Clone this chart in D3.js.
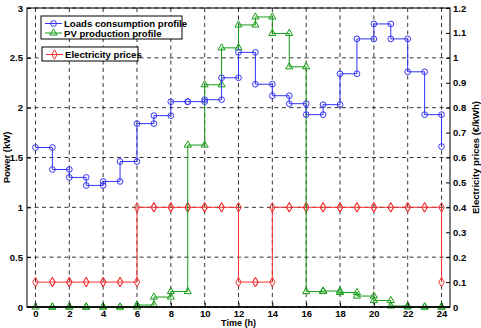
<!DOCTYPE html>
<html>
<head>
<meta charset="utf-8">
<script src="https://cdn.jsdelivr.net/npm/d3@7"></script>
<style>
  body { margin: 0; background: #fff; }
  text { font-family: "Liberation Sans", Arial, sans-serif; font-weight: bold; }
</style>
</head>
<body>
<script>
// hourly values, index = hour 0..24 (last one closes the stairs)
var hours = d3.range(0, 25);
var loads = [1.6, 1.38, 1.3, 1.22, 1.26, 1.46, 1.84, 1.92, 2.06, 2.06, 2.08, 2.3, 2.555,
             2.235, 2.12, 2.04, 1.93, 2.03, 2.34, 2.69, 2.84, 2.69, 2.36, 1.93, 1.61];
var pv = [0, 0, 0, 0, 0, 0, 0.02, 0.1, 0.155, 1.625, 2.23, 2.6, 2.83,
          2.91, 2.745, 2.41, 0.155, 0.16, 0.145, 0.11, 0.065, 0.01, 0, 0, 0];
var prices = [0.1, 0.1, 0.1, 0.1, 0.1, 0.1, 0.4, 0.4, 0.4, 0.4, 0.4, 0.4, 0.1,
              0.1, 0.4, 0.4, 0.4, 0.4, 0.4, 0.4, 0.4, 0.4, 0.4, 0.4, 0.1];
var xTicks = d3.range(0, 25, 2);
var yTicks = [0, 0.5, 1, 1.5, 2, 2.5, 3];
var y2Ticks = d3.range(0, 13).map(function(d) { return d / 10; });

var w = 481, h = 328;
var margin = {top: 8, bottom: 21, left: 27, right: 31};

var svg = d3.select("body").append("svg")
    .attr("width", w)
    .attr("height", h)

var x = d3.scaleLinear().domain([-0.5, 24.5]).range([margin.left, w - margin.right]);
var y = d3.scaleLinear().domain([0, 3]).range([h - margin.bottom, margin.top]);
var y2 = d3.scaleLinear().domain([0, 1.2]).range([h - margin.bottom, margin.top]);

var x0 = margin.left, x1 = w - margin.right, yb = h - margin.bottom, yt = margin.top;

// grid
svg.append("g").selectAll("line").data(xTicks).enter().append("line")
  .attr("x1", function(d) { return x(d); }).attr("x2", function(d) { return x(d); })
  .attr("y1", yt).attr("y2", yb)
  .attr("stroke", "#333").attr("stroke-dasharray", "4,3.5");
svg.append("g").selectAll("line").data(yTicks).enter().append("line")
  .attr("y1", function(d) { return y(d); }).attr("y2", function(d) { return y(d); })
  .attr("x1", x0).attr("x2", x1)
  .attr("stroke", "#333").attr("stroke-dasharray", "4,3.5");

// stairs vertices: (i, v_i) (i+1, v_i) ... (24, v_24)
function stairs(vals, sc) {
  var pts = [];
  for (var i = 0; i < vals.length - 1; i++) {
    pts.push([hours[i], vals[i]]);
    pts.push([hours[i + 1], vals[i]]);
  }
  pts.push([hours[vals.length - 1], vals[vals.length - 1]]);
  return pts.map(function(p) { return [x(p[0]), sc(p[1])]; });
}

function drawSeries(vals, sc, color, shape) {
  var pts = stairs(vals, sc);
  svg.append("path").attr("d", d3.line()(pts))
    .attr("fill", "none").attr("stroke", color).attr("stroke-width", 1);
  svg.append("g").selectAll("path").data(pts).enter().append("path")
    .attr("d", d3.symbol().type(shape).size(shape === d3.symbolTriangle ? 22 : 26))
    .attr("transform", function(p) { return "translate(" + p[0] + "," + p[1] + ")"; })
    .attr("fill", "none").attr("stroke", color).attr("stroke-width", 1);
}

var blue = "#3434f5", green = "#169c16", red = "#f53434";
drawSeries(prices, y2, red, d3.symbolDiamond);
drawSeries(pv, y, green, d3.symbolTriangle);
drawSeries(loads, y, blue, d3.symbolCircle);

// frame
svg.append("rect").attr("x", x0).attr("y", yt).attr("width", x1 - x0).attr("height", yb - yt)
  .attr("fill", "none").attr("stroke", "#000").attr("stroke-width", 1);
svg.append("line").attr("x1", x0).attr("x2", x1).attr("y1", yb).attr("y2", yb)
  .attr("stroke", "#000").attr("stroke-width", 1.5);

// axes (ticks inward)
svg.append("g").attr("transform", "translate(" + x0 + ",0)")
  .call(d3.axisLeft(y).tickValues(yTicks).tickSize(-4).tickPadding(4).tickFormat(d3.format("")))
  .call(function(g) { g.select(".domain").remove(); });
svg.append("g").attr("transform", "translate(0," + yb + ")")
  .call(d3.axisBottom(x).tickValues(xTicks).tickSize(-4).tickPadding(3).tickFormat(d3.format("d")))
  .call(function(g) { g.select(".domain").remove(); });
svg.append("g").attr("transform", "translate(" + x1 + ",0)")
  .call(d3.axisRight(y2).tickValues(y2Ticks).tickSize(-4).tickPadding(3).tickFormat(d3.format("")))
  .call(function(g) { g.select(".domain").remove(); });

svg.selectAll(".tick text").attr("font-size", 9.5).attr("fill", "#000")
  .style("font-family", "Liberation Sans, Arial, sans-serif").style("font-weight", "bold");
svg.selectAll(".tick line").attr("stroke", "#000");

// axis titles
svg.append("text").attr("x", x(12)).attr("y", 325.5).attr("text-anchor", "middle")
  .attr("font-size", 9).text("Time (h)");
svg.append("text").attr("transform", "translate(10," + y(1.5) + ") rotate(-90)")
  .attr("text-anchor", "middle").attr("font-size", 9.5).text("Power (kW)");
svg.append("text").attr("transform", "translate(479," + y(1.5) + ") rotate(-90)")
  .attr("text-anchor", "middle").attr("font-size", 9.5).text("Electricity prices (€/kWh)");

// legends
function legend(bx, by, bw, bh, items) {
  var g = svg.append("g");
  g.append("rect").attr("x", bx).attr("y", by).attr("width", bw).attr("height", bh)
    .attr("fill", "#fff").attr("stroke", "#000");
  items.forEach(function(it, i) {
    var cy = by + 7.5 + i * 9.5;
    g.append("line").attr("x1", bx + 4).attr("x2", bx + 21).attr("y1", cy).attr("y2", cy)
      .attr("stroke", it.color);
    g.append("path").attr("d", d3.symbol().type(it.shape).size(it.shape === d3.symbolTriangle ? 22 : 26))
      .attr("transform", "translate(" + (bx + 12.5) + "," + cy + ")")
      .attr("fill", "none").attr("stroke", it.color);
    g.append("text").attr("x", bx + 23).attr("y", cy + 3.5).attr("font-size", 9.6).text(it.label);
  });
}
legend(41, 16, 141, 23, [
  {label: "Loads consumption profile", color: blue, shape: d3.symbolCircle},
  {label: "PV production profile", color: green, shape: d3.symbolTriangle}
]);
legend(42, 47, 96, 14, [
  {label: "Electricity prices", color: red, shape: d3.symbolDiamond}
]);
</script>
</body>
</html>
